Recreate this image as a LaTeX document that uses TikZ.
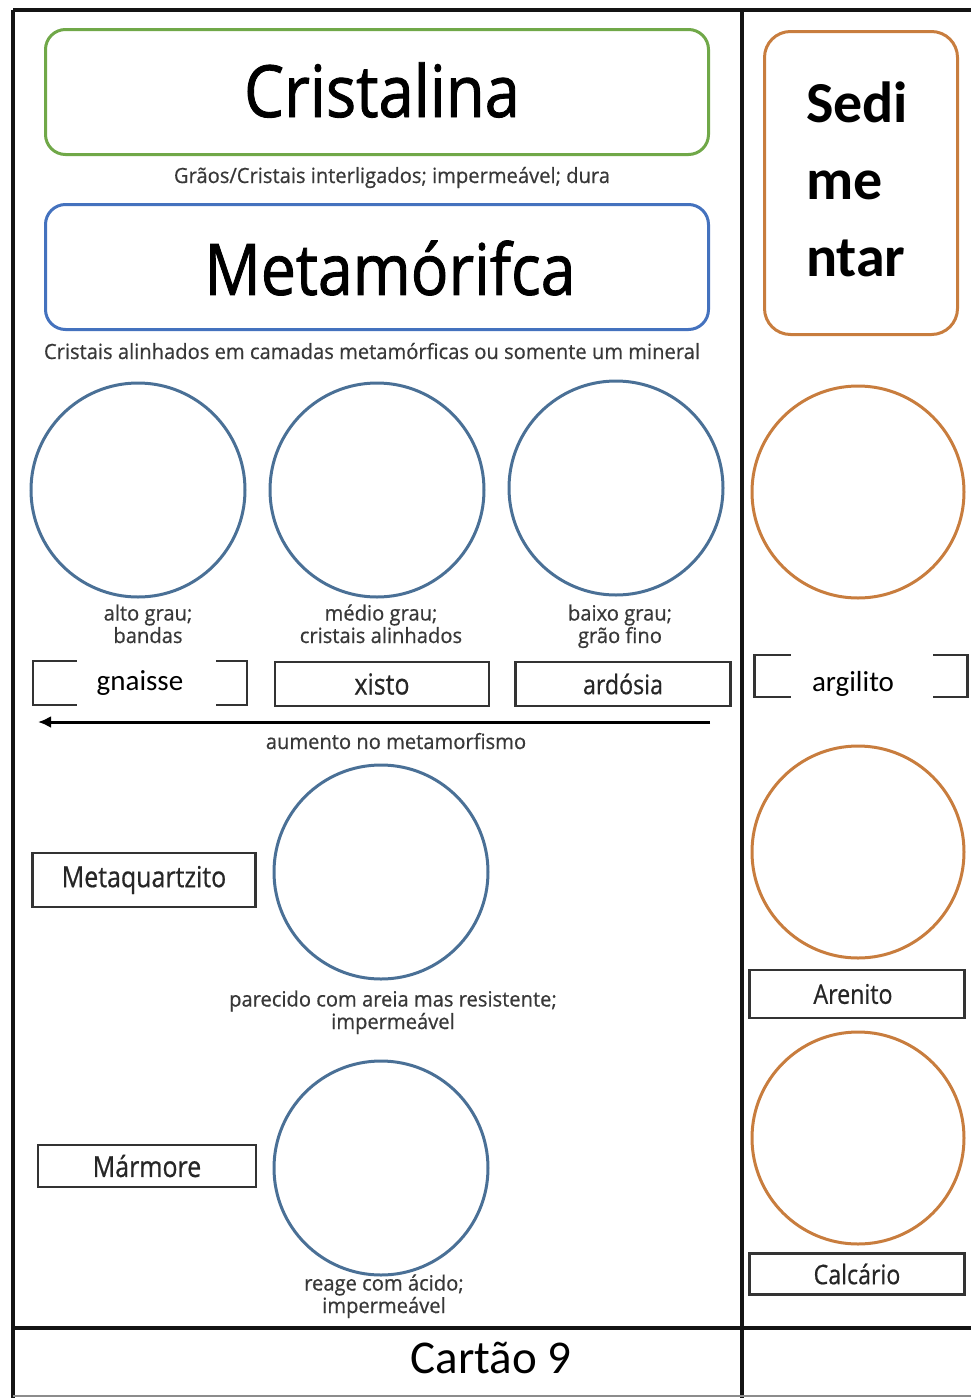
\documentclass[tikz,border=0pt]{standalone}
\usepackage{fontspec}
\setmainfont{Open Sans}
\newfontfamily\os[FakeStretch=0.86,FakeBold=0.6]{Open Sans}
\newfontfamily\osn[FakeStretch=0.96,FakeBold=0.6]{Open Sans}
\newfontfamily\osh[FakeStretch=0.88,FakeBold=1.2]{Open Sans}
\newfontfamily\cb{Carlito}
\usetikzlibrary{arrows.meta}
\definecolor{grn}{RGB}{112,168,72}
\definecolor{hblue}{RGB}{68,114,190}
\definecolor{cblue}{RGB}{74,112,150}
\definecolor{orng}{RGB}{200,125,62}
\definecolor{frame}{RGB}{20,20,20}
\newcommand{\fs}[1]{\fontsize{#1}{#1}\selectfont}
\tikzset{
  head/.style={draw, line width=3pt, rounded corners=20pt, minimum width=663pt, minimum height=125pt, inner sep=0pt},
  note/.style={font=\osn\fontsize{21}{22.5}\selectfont, text=black!78, align=center, inner sep=0pt, anchor=base},
  bluering/.style={circle, draw=cblue, line width=3pt, minimum size=214pt, inner sep=0pt},
  orangering/.style={circle, draw=orng, line width=3pt, minimum size=212pt, inner sep=0pt},
  namebox/.style={draw=black!80, line width=2.5pt, inner sep=0pt, font=\os\fs{29}, text=black!85},
  rbox/.style={namebox, font=\os\fs{27}},
  patch/.style={fill=white, inner sep=0pt, font=\cb\fs{29}},
  rule/.style={draw=frame, line width=3.5pt}
}
\begin{document}
\begin{tikzpicture}[x=1pt,y=-1pt]
\useasboundingbox (0,0) rectangle (971,1398);
% frame
\coordinate (tl) at (13,10);
\coordinate (tr) at (971,10);
\coordinate (bl) at (13,1398);
\coordinate (dt) at (742,10);
\coordinate (db) at (742,1398);
\coordinate (hl) at (13,1328);
\coordinate (hr) at (971,1328);
\coordinate (bbl) at (13,1396);
\coordinate (bbr) at (971,1396);
\draw[rule] (tl) -- (tr);
\draw[rule] (tl) -- (bl);
\draw[rule] (dt) -- (db);
\draw[rule] (hl) -- (hr);
\draw[draw=black!45, line width=1.5pt] (bbl) -- (bbr);

% headings
\node[head, draw=grn] (cris) at (377,92) {};
\node[font=\osh\fs{72}, inner sep=0pt] (crist) at (382,90) {Cristalina};
\node[note] (crisn) at (392,183) {Grãos/Cristais interligados; impermeável; dura};
\node[head, draw=hblue] (meta) at (377,267) {};
\node[font=\osh\fs{71}, inner sep=0pt] (metat) at (390,268) {Metamórifca};
\node[note] (metan) at (372,359) {Cristais alinhados em camadas metamórficas ou somente um mineral};

% row of circles
\node[bluering] (c1) at (138,490) {};
\node[bluering] (c2) at (377,490) {};
\node[bluering] (c3) at (616,488) {};
\node[note] (l1) at (148,643) {alto grau;\\bandas};
\node[note] (l2) at (381,643) {médio grau;\\cristais alinhados};
\node[note] (l3) at (620,643) {baixo grau;\\grão fino};

\node[namebox, minimum width=214pt, minimum height=44pt] (b1) at (140,683) {};
\node[patch, minimum width=139pt, minimum height=58pt] (gn) at (146,683) {\hspace*{-12pt}gnaisse};
\node[namebox, minimum width=214pt, minimum height=44pt] (b2) at (382,684) {xisto};
\node[namebox, minimum width=215pt, minimum height=44pt, font=\os\fs{27}] (b3) at (623,684) {ardósia};

\coordinate (as) at (710,722);
\coordinate (ae) at (38,722);
\draw[line width=3pt, -{Latex[length=13pt,width=12pt]}] (as) -- (ae);
\node[note] (an) at (396,749) {aumento no metamorfismo};

% metaquartzito
\node[namebox, minimum width=223pt, minimum height=54pt] (mq) at (144,880) {Metaquartzito};
\node[bluering] (c4) at (381,872) {};
\node[note] (l4) at (393,1029) {parecido com areia mas resistente;\\impermeável};

% marmore
\node[namebox, minimum width=218pt, minimum height=42pt] (mm) at (147,1166) {Mármore};
\node[bluering] (c5) at (381,1168) {};
\node[note] (l5) at (384,1313) {reage com ácido;\\impermeável};

% right column
\node[draw=orng, line width=3pt, rounded corners=26pt, minimum width=193pt, minimum height=303pt, inner sep=0pt] (sed) at (861,183) {};
\node[fill=white, minimum width=150pt, minimum height=268pt, inner sep=0pt, text width=104pt, align=left, font=\cb\bfseries\fontsize{58}{77}\selectfont] (sedt) at (858,179) {Sedi\\me\\ntar};

\node[orangering] (o1) at (858,492) {};
\node[rbox, minimum width=213pt, minimum height=42pt] (ab) at (861,676) {};
\node[patch, minimum width=142pt, minimum height=49pt, text height=30pt, text depth=4pt] (arg) at (862,678) {\hspace*{-18pt}argilito};
\node[orangering] (o2) at (858,852) {};
\node[rbox, minimum width=215pt, minimum height=48pt] (are) at (857,994) {\hspace*{-8pt}Arenito};
\node[orangering] (o3) at (858,1138) {};
\node[rbox, minimum width=215pt, minimum height=41pt] (cal) at (857,1274) {Calcário};

\node[font=\cb\fs{47}, inner sep=0pt] (card) at (491,1358) {Cartão 9};
\end{tikzpicture}
\end{document}
